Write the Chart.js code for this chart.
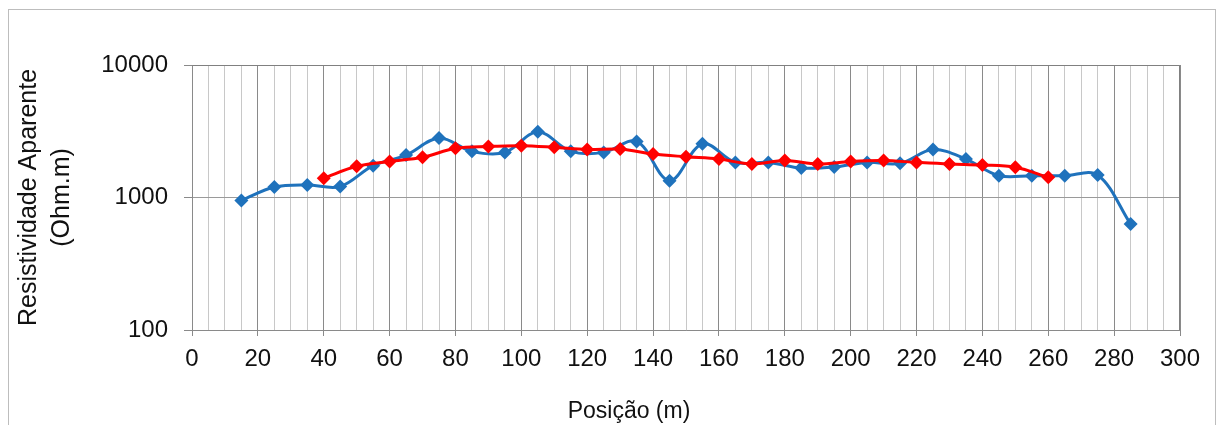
<!DOCTYPE html>
<html>
<head>
<meta charset="utf-8">
<script src="https://cdn.jsdelivr.net/npm/chart.js@4/dist/chart.umd.min.js"></script>
<style>
  html, body { margin: 0; padding: 0; background: #fff; }
  #wrap { width: 1218px; height: 425px; }
</style>
</head>
<body>
<div id="wrap"><canvas id="myChart" width="1218" height="425"></canvas></div>
<script>
// Posição (m) of each measurement
const blueX = [15, 25, 35, 45, 55, 65, 75, 85, 95, 105, 115, 125, 135, 145, 155,
               165, 175, 185, 195, 205, 215, 225, 235, 245, 255, 265, 275, 285];
const blueY = [950, 1200, 1245, 1210, 1740, 2090, 2810, 2230, 2190, 3130, 2230, 2190, 2650, 1340, 2540,
               1840, 1840, 1670, 1700, 1840, 1810, 2300, 1950, 1460, 1460, 1460, 1480, 630];

const redX = [40, 50, 60, 70, 80, 90, 100, 110, 120, 130, 140, 150,
              160, 170, 180, 190, 200, 210, 220, 230, 240, 250, 260];
const redY = [1400, 1720, 1870, 2010, 2350, 2430, 2460, 2390, 2300, 2320, 2130, 2030,
              1950, 1790, 1900, 1790, 1870, 1900, 1840, 1790, 1760, 1690, 1420];

const yTicks = [100, 1000, 10000];
const xLabelStep = 20;
const xTitle = 'Posição (m)';
const yTitle = ['Resistividade Aparente', '(Ohm.m)'];

const FONT = 'Liberation Sans, Arial, sans-serif';
const BLUE = '#1F72BC';
const RED = '#FF0000';

const toPoints = (xs, ys) => xs.map((x, i) => ({ x: x, y: ys[i] }));

// outer frame, plot-area box and the x title (Excel puts it a bit left of centre)
const frame = {
  id: 'frame',
  beforeDraw(chart) {
    const c = chart.ctx;
    c.save();
    c.fillStyle = '#fff';
    c.fillRect(0, 0, chart.width, chart.height);
    c.strokeStyle = '#bdbdbd';
    c.lineWidth = 1;
    c.strokeRect(8.5, 9.5, 1207, 440);
    c.restore();
  },
  beforeDatasetsDraw(chart) {
    const a = chart.chartArea;
    const c = chart.ctx;
    c.save();
    c.strokeStyle = '#808080';
    c.lineWidth = 1;
    c.beginPath();
    c.moveTo(Math.round(a.left) + 0.5, Math.round(a.top) + 0.5);
    c.lineTo(Math.round(a.right) - 0.5, Math.round(a.top) + 0.5);
    c.lineTo(Math.round(a.right) - 0.5, Math.round(a.bottom));
    c.stroke();
    c.restore();
  },
  afterDraw(chart) {
    const c = chart.ctx;
    c.save();
    c.fillStyle = '#111';
    c.font = '23px ' + FONT;
    c.textAlign = 'center';
    c.textBaseline = 'middle';
    c.fillText(xTitle, 629, 412);
    c.restore();
  }
};

const ctx = document.getElementById('myChart');
new Chart(ctx, {
  type: 'line',
  data: {
    datasets: [{
      label: 'Série 1',
      data: toPoints(blueX, blueY),
      borderColor: BLUE,
      backgroundColor: BLUE,
      borderWidth: 3,
      pointStyle: 'rectRot',
      pointRadius: 7,
      pointBorderWidth: 0,
      tension: 0.35,
      order: 2
    }, {
      label: 'Série 2',
      data: toPoints(redX, redY),
      borderColor: RED,
      backgroundColor: RED,
      borderWidth: 3,
      pointStyle: 'rectRot',
      pointRadius: 7,
      pointBorderWidth: 0,
      tension: 0.35,
      order: 1
    }]
  },
  options: {
    responsive: false,
    animation: false,
    layout: { padding: { left: 0, top: 65, right: 38, bottom: 0 } },
    plugins: {
      legend: { display: false },
      tooltip: { enabled: false }
    },
    scales: {
      x: {
        type: 'linear',
        min: 0,
        max: 300,
        afterFit(scale) { scale.height = 95; },
        ticks: {
          stepSize: 5,
          autoSkip: false,
          maxRotation: 0,
          padding: 9,
          color: '#111',
          font: { family: FONT, size: 24 },
          callback: v => (v % xLabelStep === 0 ? String(v) : '')
        },
        grid: {
          color: c => (c.tick && c.tick.value % xLabelStep === 0 ? '#8a8a8a' : '#c8c8c8'),
          tickColor: c => (c.tick && c.tick.value % xLabelStep === 0 ? '#8a8a8a' : 'rgba(0,0,0,0)'),
          tickLength: 6,
          lineWidth: 1
        },
        border: { color: '#8a8a8a' },
        title: { display: false }
      },
      y: {
        type: 'logarithmic',
        min: 100,
        max: 10000,
        afterFit(scale) { scale.width = 192; },
        afterBuildTicks(scale) { scale.ticks = yTicks.map(v => ({ value: v })); },
        ticks: {
          padding: 16,
          color: '#111',
          font: { family: FONT, size: 24 },
          callback: v => String(v)
        },
        grid: {
          color: '#9a9a9a',
          tickColor: '#8a8a8a',
          tickLength: 8
        },
        border: { color: '#8a8a8a' },
        title: {
          display: true,
          text: yTitle,
          color: '#111',
          font: { family: FONT, size: 25, lineHeight: 1.32 },
          padding: { top: 12.5, bottom: 0 }
        }
      }
    }
  },
  plugins: [frame]
});
</script>
</body>
</html>
